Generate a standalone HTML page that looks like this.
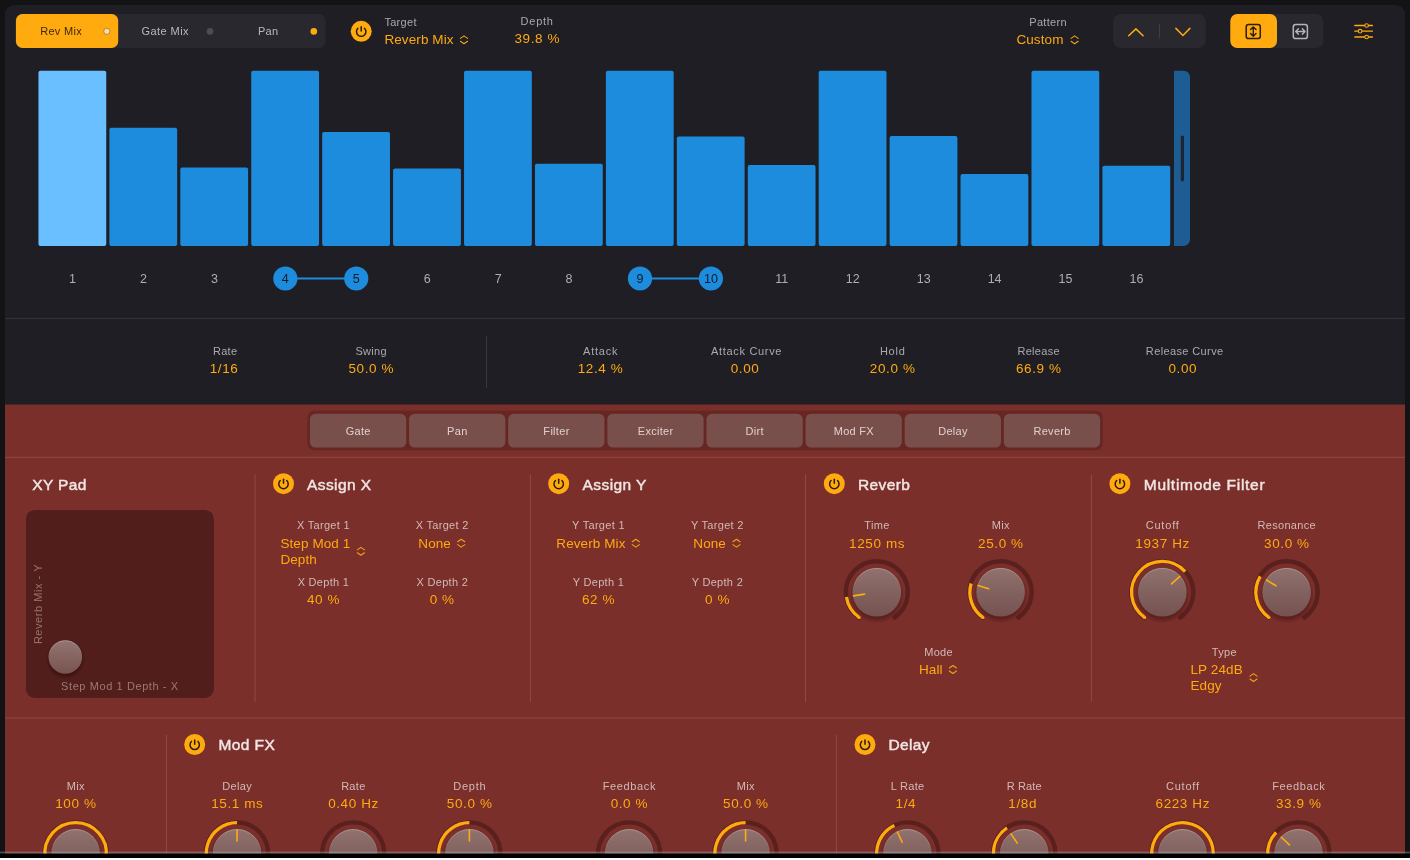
<!DOCTYPE html>
<html><head><meta charset="utf-8"><title>Step FX</title>
<style>
html,body{margin:0;padding:0;overflow:hidden;}
body{width:1410px;height:860px;background:#131315;overflow:hidden;position:relative;font-family:"Liberation Sans",sans-serif;}
.a{position:absolute;display:block;}
.t{position:absolute;line-height:16px;white-space:nowrap;}
#root{position:absolute;left:0;top:0;width:1410px;height:860px;will-change:transform;}
</style></head>
<body><div id="root">
<div class="a" style="left:5.00px;top:5.00px;width:1400.00px;height:400.00px;background:#1e1e24;border-radius:0px;border-radius:9px 9px 0 0;"></div>
<svg class="a" style="left:4px;top:403px" width="1402" height="453" viewBox="0 0 1402 453"><rect x="1.00" y="1.50" width="1400.00" height="450.00" fill="#7a2f2b"/></svg>
<svg class="a" style="left:14px;top:13px" width="313" height="36" viewBox="0 0 313 36"><rect x="1.90" y="1.10" width="309.60" height="33.80" rx="6.5" fill="#28282e"/></svg>
<svg class="a" style="left:14px;top:13px" width="106" height="36" viewBox="0 0 106 36"><rect x="1.90" y="1.10" width="102.30" height="33.80" rx="6.5" fill="#ffaa0e"/></svg>
<div class="t" style="left:-88.95px;width:300px;text-align:center;top:23.00px;font-size:11px;color:#3f2a08;font-weight:400;letter-spacing:0.3px;">Rev Mix</div>
<div class="t" style="left:15.22px;width:300px;text-align:center;top:23.00px;font-size:11px;color:#b9b9bd;font-weight:400;letter-spacing:0.45px;">Gate Mix</div>
<div class="t" style="left:118.15px;width:300px;text-align:center;top:23.00px;font-size:11px;color:#b9b9bd;font-weight:400;letter-spacing:0.3px;">Pan</div>
<svg class="a" style="left:100px;top:24px" width="220" height="16" viewBox="100 24 220 16"><circle cx="106.8" cy="31.35" r="3.1" fill="#ffdba6" stroke="#a5782c" stroke-width="0.8"/><circle cx="210" cy="31.4" r="3.3" fill="#4b4b59"/><circle cx="313.8" cy="31.4" r="3.3" fill="#ffaa0e"/></svg>
<svg class="a" style="left:350px;top:20px" width="22" height="22" viewBox="0 0 22 22"><g transform="translate(0.70 0.80)"><circle cx="10.5" cy="10.5" r="10.5" fill="#ffaa0e"/><path d="M13.76 7.42 A4.7 4.7 0 1 1 7.24 7.42" fill="none" stroke="#2b1d0a" stroke-width="1.5" stroke-linecap="round"/><path d="M10.5 6.00 L10.5 10.20" stroke="#2b1d0a" stroke-width="1.5" stroke-linecap="round"/></g></svg>
<div class="t" style="left:384.40px;text-align:left;top:14.00px;font-size:11px;color:#a9a9af;font-weight:400;letter-spacing:0.3px;">Target</div>
<div class="t" style="left:384.40px;text-align:left;top:32.00px;font-size:13.5px;color:#ffaa0e;font-weight:400;letter-spacing:0.1px;">Reverb Mix</div>
<svg class="a" style="left:459px;top:34px" width="11" height="11" viewBox="0 0 11 11"><g transform="translate(0.45 0.85)"><path d="M1.00 3.50 L4.55 1.00 L8.10 3.50 M1.00 6.40 L4.55 8.90 L8.10 6.40" fill="none" stroke="#f5a40f" stroke-width="1.05" stroke-linecap="round" stroke-linejoin="round"/></g></svg>
<div class="t" style="left:387.17px;width:300px;text-align:center;top:13.00px;font-size:11px;color:#a9a9af;font-weight:400;letter-spacing:0.75px;">Depth</div>
<div class="t" style="left:387.30px;width:300px;text-align:center;top:31.00px;font-size:13.5px;color:#ffaa0e;font-weight:400;letter-spacing:0.6px;">39.8 %</div>
<div class="t" style="left:898.05px;width:300px;text-align:center;top:14.00px;font-size:11px;color:#a9a9af;font-weight:400;letter-spacing:0.3px;">Pattern</div>
<div class="t" style="left:1016.40px;text-align:left;top:32.00px;font-size:13.5px;color:#ffaa0e;font-weight:400;letter-spacing:0.1px;">Custom</div>
<svg class="a" style="left:1070px;top:34px" width="11" height="11" viewBox="0 0 11 11"><g transform="translate(0.05 0.85)"><path d="M1.00 3.50 L4.55 1.00 L8.10 3.50 M1.00 6.40 L4.55 8.90 L8.10 6.40" fill="none" stroke="#f5a40f" stroke-width="1.05" stroke-linecap="round" stroke-linejoin="round"/></g></svg>
<svg class="a" style="left:1112px;top:13px" width="95" height="36" viewBox="0 0 95 36"><rect x="1.00" y="1.00" width="92.70" height="34.00" rx="8" fill="#28282e"/></svg>
<svg class="a" style="left:1158px;top:23px" width="3" height="17" viewBox="0 0 3 17"><rect x="1.00" y="1.00" width="1.00" height="14.20" fill="#3d3d45"/></svg>
<svg class="a" style="left:1113px;top:14px" width="93" height="34" viewBox="0 0 93 34"><path d="M15.7 21.8 L22.9 14.9 L30.1 21.8" fill="none" stroke="#ffaa0e" stroke-width="1.5" stroke-linecap="round" stroke-linejoin="round"/><path d="M62.9 14.4 L69.9 21.5 L76.9 14.4" fill="none" stroke="#ffaa0e" stroke-width="1.5" stroke-linecap="round" stroke-linejoin="round"/></svg>
<svg class="a" style="left:1229px;top:13px" width="96" height="36" viewBox="0 0 96 36"><rect x="1.30" y="1.00" width="93.00" height="34.00" rx="7" fill="#28282e"/></svg>
<svg class="a" style="left:1229px;top:13px" width="49" height="36" viewBox="0 0 49 36"><rect x="1.30" y="1.00" width="46.70" height="34.00" rx="7" fill="#ffaa0e"/></svg>
<svg class="a" style="left:1229.8px;top:14px" width="93" height="34" viewBox="0 0 93 34"><rect x="16.2" y="10.5" width="14.1" height="14.1" rx="2.4" fill="none" stroke="#2b1d0a" stroke-width="1.5"/><path d="M23.25 13.2 L23.25 22 M20.5 15.6 L23.25 12.9 L26 15.6 M20.5 19.5 L23.25 22.2 L26 19.5" fill="none" stroke="#2b1d0a" stroke-width="1.4" stroke-linecap="round" stroke-linejoin="round"/><rect x="63.3" y="10.5" width="14.1" height="14.1" rx="2.4" fill="none" stroke="#b4b4bc" stroke-width="1.5"/><path d="M65.9 17.55 L74.8 17.55 M68.4 14.8 L65.7 17.55 L68.4 20.3 M72.3 14.8 L75 17.55 L72.3 20.3" fill="none" stroke="#b4b4bc" stroke-width="1.4" stroke-linecap="round" stroke-linejoin="round"/></svg>
<svg class="a" style="left:1350px;top:20px" width="28" height="24" viewBox="0 0 28 24"><g stroke="#ffaa0e" stroke-width="1.3" stroke-linecap="round" fill="#1e1e24"><path d="M4.8 5.5 L22.4 5.5 M4.8 11.2 L22.4 11.2 M4.8 17 L22.4 17"/><circle cx="16.6" cy="5.5" r="1.8" stroke-width="1.1"/><circle cx="10.1" cy="11.2" r="1.8" stroke-width="1.1"/><circle cx="16.6" cy="17" r="1.8" stroke-width="1.1"/></g></svg>
<svg class="a" style="left:0;top:60px" width="1200" height="200" viewBox="0 60 1200 200"><rect x="38.45" y="70.80" width="67.8" height="175.20" rx="1.9" fill="#69bfff"/><rect x="109.38" y="127.80" width="67.8" height="118.20" rx="1.9" fill="#1e8cdc"/><rect x="180.31" y="167.50" width="67.8" height="78.50" rx="1.9" fill="#1e8cdc"/><rect x="251.24" y="70.80" width="67.8" height="175.20" rx="1.9" fill="#1e8cdc"/><rect x="322.17" y="131.90" width="67.8" height="114.10" rx="1.9" fill="#1e8cdc"/><rect x="393.10" y="168.45" width="67.8" height="77.55" rx="1.9" fill="#1e8cdc"/><rect x="464.03" y="70.80" width="67.8" height="175.20" rx="1.9" fill="#1e8cdc"/><rect x="534.96" y="163.70" width="67.8" height="82.30" rx="1.9" fill="#1e8cdc"/><rect x="605.89" y="70.80" width="67.8" height="175.20" rx="1.9" fill="#1e8cdc"/><rect x="676.82" y="136.40" width="67.8" height="109.60" rx="1.9" fill="#1e8cdc"/><rect x="747.75" y="165.10" width="67.8" height="80.90" rx="1.9" fill="#1e8cdc"/><rect x="818.68" y="70.80" width="67.8" height="175.20" rx="1.9" fill="#1e8cdc"/><rect x="889.61" y="136.05" width="67.8" height="109.95" rx="1.9" fill="#1e8cdc"/><rect x="960.54" y="174.00" width="67.8" height="72.00" rx="1.9" fill="#1e8cdc"/><rect x="1031.47" y="70.80" width="67.8" height="175.20" rx="1.9" fill="#1e8cdc"/><rect x="1102.40" y="165.70" width="67.8" height="80.30" rx="1.9" fill="#1e8cdc"/></svg>
<svg class="a" style="left:1170px;top:60px" width="30" height="200" viewBox="1170 60 30 200"><path d="M1174 70.7 H1183.5 A6.5 6.5 0 0 1 1190 77.2 V239.5 A6.5 6.5 0 0 1 1183.5 246.0 H1174 Z" fill="#1d5d93"/></svg>
<svg class="a" style="left:1179px;top:134px" width="6" height="49" viewBox="0 0 6 49"><rect x="1.80" y="1.60" width="3.20" height="45.80" rx="1.6" fill="#1c2533"/></svg>
<svg class="a" style="left:284px;top:276px" width="74" height="5" viewBox="0 0 74 5"><rect x="1.34" y="1.50" width="70.93" height="2.00" fill="#1e8cdc"/></svg>
<svg class="a" style="left:638px;top:276px" width="74" height="5" viewBox="0 0 74 5"><rect x="1.99" y="1.50" width="70.93" height="2.00" fill="#1e8cdc"/></svg>
<div class="t" style="left:-77.45px;width:300px;text-align:center;top:271.00px;font-size:12.5px;color:#adadb3;font-weight:400;">1</div>
<div class="t" style="left:-6.52px;width:300px;text-align:center;top:271.00px;font-size:12.5px;color:#adadb3;font-weight:400;">2</div>
<div class="t" style="left:64.41px;width:300px;text-align:center;top:271.00px;font-size:12.5px;color:#adadb3;font-weight:400;">3</div>
<svg class="a" style="left:272px;top:265px" width="27" height="27" viewBox="0 0 27 27"><g transform="translate(0.34 0.50)"><circle cx="13" cy="13" r="12.1" fill="#1e8cdc"/></g></svg>
<div class="t" style="left:135.34px;width:300px;text-align:center;top:271.00px;font-size:12.5px;color:#0d1b2a;font-weight:400;">4</div>
<svg class="a" style="left:343px;top:265px" width="27" height="27" viewBox="0 0 27 27"><g transform="translate(0.27 0.50)"><circle cx="13" cy="13" r="12.1" fill="#1e8cdc"/></g></svg>
<div class="t" style="left:206.27px;width:300px;text-align:center;top:271.00px;font-size:12.5px;color:#0d1b2a;font-weight:400;">5</div>
<div class="t" style="left:277.20px;width:300px;text-align:center;top:271.00px;font-size:12.5px;color:#adadb3;font-weight:400;">6</div>
<div class="t" style="left:348.13px;width:300px;text-align:center;top:271.00px;font-size:12.5px;color:#adadb3;font-weight:400;">7</div>
<div class="t" style="left:419.06px;width:300px;text-align:center;top:271.00px;font-size:12.5px;color:#adadb3;font-weight:400;">8</div>
<svg class="a" style="left:626px;top:265px" width="27" height="27" viewBox="0 0 27 27"><g transform="translate(0.99 0.50)"><circle cx="13" cy="13" r="12.1" fill="#1e8cdc"/></g></svg>
<div class="t" style="left:489.99px;width:300px;text-align:center;top:271.00px;font-size:12.5px;color:#0d1b2a;font-weight:400;">9</div>
<svg class="a" style="left:697px;top:265px" width="27" height="27" viewBox="0 0 27 27"><g transform="translate(0.92 0.50)"><circle cx="13" cy="13" r="12.1" fill="#1e8cdc"/></g></svg>
<div class="t" style="left:560.92px;width:300px;text-align:center;top:271.00px;font-size:12.5px;color:#0d1b2a;font-weight:400;">10</div>
<div class="t" style="left:631.85px;width:300px;text-align:center;top:271.00px;font-size:12.5px;color:#adadb3;font-weight:400;">11</div>
<div class="t" style="left:702.78px;width:300px;text-align:center;top:271.00px;font-size:12.5px;color:#adadb3;font-weight:400;">12</div>
<div class="t" style="left:773.71px;width:300px;text-align:center;top:271.00px;font-size:12.5px;color:#adadb3;font-weight:400;">13</div>
<div class="t" style="left:844.64px;width:300px;text-align:center;top:271.00px;font-size:12.5px;color:#adadb3;font-weight:400;">14</div>
<div class="t" style="left:915.57px;width:300px;text-align:center;top:271.00px;font-size:12.5px;color:#adadb3;font-weight:400;">15</div>
<div class="t" style="left:986.50px;width:300px;text-align:center;top:271.00px;font-size:12.5px;color:#adadb3;font-weight:400;">16</div>
<svg class="a" style="left:4px;top:316px" width="1402" height="4" viewBox="0 0 1402 4"><rect x="1.00" y="1.90" width="1400.00" height="1.00" fill="#34343b"/></svg>
<svg class="a" style="left:485px;top:334px" width="3" height="55" viewBox="0 0 3 55"><rect x="1.00" y="1.50" width="1.00" height="52.50" fill="#36363d"/></svg>
<div class="t" style="left:75.15px;width:300px;text-align:center;top:343.00px;font-size:11px;color:#a9a9af;font-weight:400;letter-spacing:0.3px;">Rate</div>
<div class="t" style="left:74.10px;width:300px;text-align:center;top:361.00px;font-size:13.5px;color:#ffaa0e;font-weight:400;letter-spacing:0.6px;">1/16</div>
<div class="t" style="left:221.15px;width:300px;text-align:center;top:343.00px;font-size:11px;color:#a9a9af;font-weight:400;letter-spacing:0.3px;">Swing</div>
<div class="t" style="left:221.30px;width:300px;text-align:center;top:361.00px;font-size:13.5px;color:#ffaa0e;font-weight:400;letter-spacing:0.6px;">50.0 %</div>
<div class="t" style="left:450.70px;width:300px;text-align:center;top:343.00px;font-size:11px;color:#a9a9af;font-weight:400;letter-spacing:0.8px;">Attack</div>
<div class="t" style="left:450.60px;width:300px;text-align:center;top:361.00px;font-size:13.5px;color:#ffaa0e;font-weight:400;letter-spacing:0.6px;">12.4 %</div>
<div class="t" style="left:596.63px;width:300px;text-align:center;top:343.00px;font-size:11px;color:#a9a9af;font-weight:400;letter-spacing:0.67px;">Attack Curve</div>
<div class="t" style="left:595.10px;width:300px;text-align:center;top:361.00px;font-size:13.5px;color:#ffaa0e;font-weight:400;letter-spacing:0.6px;">0.00</div>
<div class="t" style="left:742.80px;width:300px;text-align:center;top:343.00px;font-size:11px;color:#a9a9af;font-weight:400;letter-spacing:0.8px;">Hold</div>
<div class="t" style="left:742.70px;width:300px;text-align:center;top:361.00px;font-size:13.5px;color:#ffaa0e;font-weight:400;letter-spacing:0.6px;">20.0 %</div>
<div class="t" style="left:888.65px;width:300px;text-align:center;top:343.00px;font-size:11px;color:#a9a9af;font-weight:400;letter-spacing:0.3px;">Release</div>
<div class="t" style="left:888.80px;width:300px;text-align:center;top:361.00px;font-size:13.5px;color:#ffaa0e;font-weight:400;letter-spacing:0.6px;">66.9 %</div>
<div class="t" style="left:1034.69px;width:300px;text-align:center;top:343.00px;font-size:11px;color:#a9a9af;font-weight:400;letter-spacing:0.38px;">Release Curve</div>
<div class="t" style="left:1032.80px;width:300px;text-align:center;top:361.00px;font-size:13.5px;color:#ffaa0e;font-weight:400;letter-spacing:0.6px;">0.00</div>
<svg class="a" style="left:306px;top:409px" width="798" height="43" viewBox="0 0 798 43"><rect x="1.40" y="1.80" width="795.40" height="39.40" rx="7" fill="#662624"/></svg>
<svg class="a" style="left:308px;top:412px" width="100" height="37" viewBox="0 0 100 37"><rect x="1.95" y="1.80" width="96.30" height="33.70" rx="5.5" fill="#794f4c"/></svg>
<div class="t" style="left:208.25px;width:300px;text-align:center;top:423.00px;font-size:11px;color:#e0d0cd;font-weight:400;letter-spacing:0.3px;">Gate</div>
<svg class="a" style="left:408px;top:412px" width="99" height="37" viewBox="0 0 99 37"><rect x="1.07" y="1.80" width="96.30" height="33.70" rx="5.5" fill="#794f4c"/></svg>
<div class="t" style="left:307.37px;width:300px;text-align:center;top:423.00px;font-size:11px;color:#e0d0cd;font-weight:400;letter-spacing:0.3px;">Pan</div>
<svg class="a" style="left:507px;top:412px" width="99" height="37" viewBox="0 0 99 37"><rect x="1.19" y="1.80" width="96.30" height="33.70" rx="5.5" fill="#794f4c"/></svg>
<div class="t" style="left:406.49px;width:300px;text-align:center;top:423.00px;font-size:11px;color:#e0d0cd;font-weight:400;letter-spacing:0.3px;">Filter</div>
<svg class="a" style="left:606px;top:412px" width="99" height="37" viewBox="0 0 99 37"><rect x="1.31" y="1.80" width="96.30" height="33.70" rx="5.5" fill="#794f4c"/></svg>
<div class="t" style="left:505.61px;width:300px;text-align:center;top:423.00px;font-size:11px;color:#e0d0cd;font-weight:400;letter-spacing:0.3px;">Exciter</div>
<svg class="a" style="left:705px;top:412px" width="99" height="37" viewBox="0 0 99 37"><rect x="1.43" y="1.80" width="96.30" height="33.70" rx="5.5" fill="#794f4c"/></svg>
<div class="t" style="left:604.73px;width:300px;text-align:center;top:423.00px;font-size:11px;color:#e0d0cd;font-weight:400;letter-spacing:0.3px;">Dirt</div>
<svg class="a" style="left:804px;top:412px" width="99" height="37" viewBox="0 0 99 37"><rect x="1.55" y="1.80" width="96.30" height="33.70" rx="5.5" fill="#794f4c"/></svg>
<div class="t" style="left:703.85px;width:300px;text-align:center;top:423.00px;font-size:11px;color:#e0d0cd;font-weight:400;letter-spacing:0.3px;">Mod FX</div>
<svg class="a" style="left:903px;top:412px" width="99" height="37" viewBox="0 0 99 37"><rect x="1.67" y="1.80" width="96.30" height="33.70" rx="5.5" fill="#794f4c"/></svg>
<div class="t" style="left:802.97px;width:300px;text-align:center;top:423.00px;font-size:11px;color:#e0d0cd;font-weight:400;letter-spacing:0.3px;">Delay</div>
<svg class="a" style="left:1002px;top:412px" width="100" height="37" viewBox="0 0 100 37"><rect x="1.79" y="1.80" width="96.30" height="33.70" rx="5.5" fill="#794f4c"/></svg>
<div class="t" style="left:902.09px;width:300px;text-align:center;top:423.00px;font-size:11px;color:#e0d0cd;font-weight:400;letter-spacing:0.3px;">Reverb</div>
<svg class="a" style="left:4px;top:455px" width="1402" height="4" viewBox="0 0 1402 4"><rect x="1.00" y="1.80" width="1400.00" height="1.00" fill="rgba(255,200,190,0.17)"/></svg>
<svg class="a" style="left:4px;top:716px" width="1402" height="4" viewBox="0 0 1402 4"><rect x="1.00" y="1.50" width="1400.00" height="1.00" fill="rgba(255,200,190,0.17)"/></svg>
<svg class="a" style="left:253px;top:473px" width="4" height="230" viewBox="0 0 4 230"><rect x="1.50" y="1.50" width="1.00" height="227.50" fill="rgba(255,200,190,0.17)"/></svg>
<svg class="a" style="left:528px;top:473px" width="4" height="230" viewBox="0 0 4 230"><rect x="1.90" y="1.50" width="1.00" height="227.50" fill="rgba(255,200,190,0.17)"/></svg>
<svg class="a" style="left:804px;top:473px" width="3" height="230" viewBox="0 0 3 230"><rect x="1.00" y="1.50" width="1.00" height="227.50" fill="rgba(255,200,190,0.17)"/></svg>
<svg class="a" style="left:1089px;top:473px" width="4" height="230" viewBox="0 0 4 230"><rect x="1.90" y="1.50" width="1.00" height="227.50" fill="rgba(255,200,190,0.17)"/></svg>
<svg class="a" style="left:164px;top:734px" width="4" height="122" viewBox="0 0 4 122"><rect x="1.90" y="1.00" width="1.00" height="120.00" fill="rgba(255,200,190,0.17)"/></svg>
<svg class="a" style="left:834px;top:734px" width="4" height="122" viewBox="0 0 4 122"><rect x="1.90" y="1.00" width="1.00" height="120.00" fill="rgba(255,200,190,0.17)"/></svg>
<div class="t" style="left:32.20px;text-align:left;top:477.00px;font-size:15.5px;color:#f1e6e4;font-weight:400;letter-spacing:0.4px;-webkit-text-stroke:0.45px #f1e6e4;">XY Pad</div>
<svg class="a" style="left:24px;top:508px" width="191" height="191" viewBox="0 0 191 191"><rect x="1.90" y="1.90" width="188.00" height="188.00" rx="9" fill="#521e1c"/></svg>
<svg class="a" style="left:41px;top:632px" width="49" height="53" viewBox="0 0 49 53"><g transform="translate(0.30 0.95)"><defs><linearGradient id="pg" x1="0" y1="0" x2="0" y2="1"><stop offset="0" stop-color="#937572"/><stop offset="1" stop-color="#78544f"/></linearGradient><radialGradient id="ps" cx="0.5" cy="0.5" r="0.5"><stop offset="0.7" stop-color="#200000" stop-opacity="0.5"/><stop offset="1" stop-color="#200000" stop-opacity="0"/></radialGradient><linearGradient id="ph" x1="0" y1="0" x2="0" y2="1"><stop offset="0" stop-color="#fff" stop-opacity="0.25"/><stop offset="0.45" stop-color="#fff" stop-opacity="0"/></linearGradient></defs><circle cx="24" cy="26.5" r="20" fill="url(#ps)"/><circle cx="24" cy="24" r="16.8" fill="url(#pg)"/><circle cx="24" cy="24" r="16.35" fill="none" stroke="url(#ph)" stroke-width="0.9"/></g></svg>
<div class="t" style="left:-30.11px;width:300px;text-align:center;top:678.00px;font-size:11px;color:#9d7875;font-weight:400;letter-spacing:0.59px;">Step Mod 1 Depth - X</div>
<div class="t" style="left:-112.30px;width:300px;text-align:center;top:596.40px;font-size:11px;letter-spacing:0.55px;color:#98716e;transform:rotate(-90deg);transform-origin:50% 50%">Reverb Mix - Y</div>
<svg class="a" style="left:273px;top:473px" width="22" height="22" viewBox="0 0 22 22"><g transform="translate(0.00 0.15)"><circle cx="10.5" cy="10.5" r="10.5" fill="#ffaa0e"/><path d="M13.76 7.42 A4.7 4.7 0 1 1 7.24 7.42" fill="none" stroke="#2b1d0a" stroke-width="1.5" stroke-linecap="round"/><path d="M10.5 6.00 L10.5 10.20" stroke="#2b1d0a" stroke-width="1.5" stroke-linecap="round"/></g></svg>
<div class="t" style="left:307.00px;text-align:left;top:477.00px;font-size:15.5px;color:#f1e6e4;font-weight:400;letter-spacing:0.4px;-webkit-text-stroke:0.45px #f1e6e4;">Assign X</div>
<div class="t" style="left:173.45px;width:300px;text-align:center;top:517.00px;font-size:11px;color:#d3b9b6;font-weight:400;letter-spacing:0.3px;">X Target 1</div>
<div class="t" style="left:280.40px;text-align:left;top:536.00px;font-size:13.5px;color:#ffaa0e;font-weight:400;letter-spacing:0.1px;">Step Mod 1</div>
<div class="t" style="left:280.40px;text-align:left;top:552.00px;font-size:13.5px;color:#ffaa0e;font-weight:400;letter-spacing:0.1px;">Depth</div>
<svg class="a" style="left:356px;top:546px" width="11" height="11" viewBox="0 0 11 11"><g transform="translate(0.35 0.35)"><path d="M1.00 3.50 L4.55 1.00 L8.10 3.50 M1.00 6.40 L4.55 8.90 L8.10 6.40" fill="none" stroke="#f5a40f" stroke-width="1.05" stroke-linecap="round" stroke-linejoin="round"/></g></svg>
<div class="t" style="left:292.15px;width:300px;text-align:center;top:517.00px;font-size:11px;color:#d3b9b6;font-weight:400;letter-spacing:0.3px;">X Target 2</div>
<div class="t" style="left:418.30px;text-align:left;top:536.00px;font-size:13.5px;color:#ffaa0e;font-weight:400;letter-spacing:0.1px;">None</div>
<svg class="a" style="left:456px;top:538px" width="11" height="11" viewBox="0 0 11 11"><g transform="translate(0.65 0.25)"><path d="M1.00 3.50 L4.55 1.00 L8.10 3.50 M1.00 6.40 L4.55 8.90 L8.10 6.40" fill="none" stroke="#f5a40f" stroke-width="1.05" stroke-linecap="round" stroke-linejoin="round"/></g></svg>
<div class="t" style="left:173.45px;width:300px;text-align:center;top:574.00px;font-size:11px;color:#d3b9b6;font-weight:400;letter-spacing:0.3px;">X Depth 1</div>
<div class="t" style="left:173.60px;width:300px;text-align:center;top:592.00px;font-size:13.5px;color:#ffaa0e;font-weight:400;letter-spacing:0.6px;">40 %</div>
<div class="t" style="left:292.35px;width:300px;text-align:center;top:574.00px;font-size:11px;color:#d3b9b6;font-weight:400;letter-spacing:0.3px;">X Depth 2</div>
<div class="t" style="left:292.20px;width:300px;text-align:center;top:592.00px;font-size:13.5px;color:#ffaa0e;font-weight:400;letter-spacing:0.6px;">0 %</div>
<svg class="a" style="left:548px;top:473px" width="22" height="22" viewBox="0 0 22 22"><g transform="translate(0.20 0.15)"><circle cx="10.5" cy="10.5" r="10.5" fill="#ffaa0e"/><path d="M13.76 7.42 A4.7 4.7 0 1 1 7.24 7.42" fill="none" stroke="#2b1d0a" stroke-width="1.5" stroke-linecap="round"/><path d="M10.5 6.00 L10.5 10.20" stroke="#2b1d0a" stroke-width="1.5" stroke-linecap="round"/></g></svg>
<div class="t" style="left:582.60px;text-align:left;top:477.00px;font-size:15.5px;color:#f1e6e4;font-weight:400;letter-spacing:0.4px;-webkit-text-stroke:0.45px #f1e6e4;">Assign Y</div>
<div class="t" style="left:448.45px;width:300px;text-align:center;top:517.00px;font-size:11px;color:#d3b9b6;font-weight:400;letter-spacing:0.3px;">Y Target 1</div>
<div class="t" style="left:556.30px;text-align:left;top:536.00px;font-size:13.5px;color:#ffaa0e;font-weight:400;letter-spacing:0.1px;">Reverb Mix</div>
<svg class="a" style="left:631px;top:538px" width="11" height="11" viewBox="0 0 11 11"><g transform="translate(0.25 0.25)"><path d="M1.00 3.50 L4.55 1.00 L8.10 3.50 M1.00 6.40 L4.55 8.90 L8.10 6.40" fill="none" stroke="#f5a40f" stroke-width="1.05" stroke-linecap="round" stroke-linejoin="round"/></g></svg>
<div class="t" style="left:567.35px;width:300px;text-align:center;top:517.00px;font-size:11px;color:#d3b9b6;font-weight:400;letter-spacing:0.3px;">Y Target 2</div>
<div class="t" style="left:693.30px;text-align:left;top:536.00px;font-size:13.5px;color:#ffaa0e;font-weight:400;letter-spacing:0.1px;">None</div>
<svg class="a" style="left:731px;top:538px" width="11" height="11" viewBox="0 0 11 11"><g transform="translate(0.95 0.25)"><path d="M1.00 3.50 L4.55 1.00 L8.10 3.50 M1.00 6.40 L4.55 8.90 L8.10 6.40" fill="none" stroke="#f5a40f" stroke-width="1.05" stroke-linecap="round" stroke-linejoin="round"/></g></svg>
<div class="t" style="left:448.45px;width:300px;text-align:center;top:574.00px;font-size:11px;color:#d3b9b6;font-weight:400;letter-spacing:0.3px;">Y Depth 1</div>
<div class="t" style="left:448.60px;width:300px;text-align:center;top:592.00px;font-size:13.5px;color:#ffaa0e;font-weight:400;letter-spacing:0.6px;">62 %</div>
<div class="t" style="left:567.35px;width:300px;text-align:center;top:574.00px;font-size:11px;color:#d3b9b6;font-weight:400;letter-spacing:0.3px;">Y Depth 2</div>
<div class="t" style="left:567.50px;width:300px;text-align:center;top:592.00px;font-size:13.5px;color:#ffaa0e;font-weight:400;letter-spacing:0.6px;">0 %</div>
<svg class="a" style="left:823px;top:473px" width="22" height="22" viewBox="0 0 22 22"><g transform="translate(0.80 0.15)"><circle cx="10.5" cy="10.5" r="10.5" fill="#ffaa0e"/><path d="M13.76 7.42 A4.7 4.7 0 1 1 7.24 7.42" fill="none" stroke="#2b1d0a" stroke-width="1.5" stroke-linecap="round"/><path d="M10.5 6.00 L10.5 10.20" stroke="#2b1d0a" stroke-width="1.5" stroke-linecap="round"/></g></svg>
<div class="t" style="left:857.90px;text-align:left;top:477.00px;font-size:15.5px;color:#f1e6e4;font-weight:400;letter-spacing:0.4px;-webkit-text-stroke:0.45px #f1e6e4;">Reverb</div>
<div class="t" style="left:726.95px;width:300px;text-align:center;top:517.00px;font-size:11px;color:#d3b9b6;font-weight:400;letter-spacing:0.3px;">Time</div>
<div class="t" style="left:727.10px;width:300px;text-align:center;top:536.00px;font-size:13.5px;color:#ffaa0e;font-weight:400;letter-spacing:0.6px;">1250 ms</div>
<svg class="a" style="left:836px;top:552px" width="81" height="81" viewBox="0 0 81 81"><g transform="translate(0.80 0.20)"><defs><linearGradient id="kg1" x1="0" y1="0" x2="0" y2="1"><stop offset="0" stop-color="#90726f"/><stop offset="1" stop-color="#74524f"/></linearGradient><radialGradient id="ks1" cx="0.5" cy="0.5" r="0.5"><stop offset="0.75" stop-color="#3a0d0c" stop-opacity="0.55"/><stop offset="1" stop-color="#3a0d0c" stop-opacity="0"/></radialGradient><linearGradient id="kh1" x1="0" y1="0" x2="0" y2="1"><stop offset="0" stop-color="#fff" stop-opacity="0.28"/><stop offset="0.45" stop-color="#fff" stop-opacity="0"/></linearGradient></defs><path d="M22.22 65.39 A31.0 31.0 0 1 1 57.78 65.39" fill="none" stroke="#5a201e" stroke-width="4.4" stroke-linecap="round"/><circle cx="22.36" cy="65.19" r="1.65" fill="#ffaa0e"/><path d="M22.36 65.19 A30.75 30.75 0 0 1 9.63 44.81" fill="none" stroke="#ffaa0e" stroke-width="3.3" stroke-linecap="butt"/><ellipse cx="40.0" cy="43.5" rx="27.8" ry="27.8" fill="url(#ks1)"/><circle cx="40.0" cy="40.0" r="24.3" fill="url(#kg1)"/><circle cx="40.0" cy="40.0" r="23.85" fill="none" stroke="url(#kh1)" stroke-width="0.9"/><path d="M16.69 43.69 L27.75 41.94" stroke="#ffaa0e" stroke-width="1.6" stroke-linecap="round"/></g></svg>
<div class="t" style="left:850.75px;width:300px;text-align:center;top:517.00px;font-size:11px;color:#d3b9b6;font-weight:400;letter-spacing:0.3px;">Mix</div>
<div class="t" style="left:850.90px;width:300px;text-align:center;top:536.00px;font-size:13.5px;color:#ffaa0e;font-weight:400;letter-spacing:0.6px;">25.0 %</div>
<svg class="a" style="left:960px;top:552px" width="81" height="81" viewBox="0 0 81 81"><g transform="translate(0.60 0.20)"><defs><linearGradient id="kg2" x1="0" y1="0" x2="0" y2="1"><stop offset="0" stop-color="#90726f"/><stop offset="1" stop-color="#74524f"/></linearGradient><radialGradient id="ks2" cx="0.5" cy="0.5" r="0.5"><stop offset="0.75" stop-color="#3a0d0c" stop-opacity="0.55"/><stop offset="1" stop-color="#3a0d0c" stop-opacity="0"/></radialGradient><linearGradient id="kh2" x1="0" y1="0" x2="0" y2="1"><stop offset="0" stop-color="#fff" stop-opacity="0.28"/><stop offset="0.45" stop-color="#fff" stop-opacity="0"/></linearGradient></defs><path d="M22.22 65.39 A31.0 31.0 0 1 1 57.78 65.39" fill="none" stroke="#5a201e" stroke-width="4.4" stroke-linecap="round"/><circle cx="22.36" cy="65.19" r="1.65" fill="#ffaa0e"/><path d="M22.36 65.19 A30.75 30.75 0 0 1 10.52 31.27" fill="none" stroke="#ffaa0e" stroke-width="3.3" stroke-linecap="butt"/><ellipse cx="40.0" cy="43.5" rx="27.8" ry="27.8" fill="url(#ks2)"/><circle cx="40.0" cy="40.0" r="24.3" fill="url(#kg2)"/><circle cx="40.0" cy="40.0" r="23.85" fill="none" stroke="url(#kh2)" stroke-width="0.9"/><path d="M17.37 33.30 L28.11 36.48" stroke="#ffaa0e" stroke-width="1.6" stroke-linecap="round"/></g></svg>
<div class="t" style="left:788.55px;width:300px;text-align:center;top:644.00px;font-size:11px;color:#d3b9b6;font-weight:400;letter-spacing:0.3px;">Mode</div>
<div class="t" style="left:919.00px;text-align:left;top:662.00px;font-size:13.5px;color:#ffaa0e;font-weight:400;letter-spacing:0.1px;">Hall</div>
<svg class="a" style="left:948px;top:664px" width="11" height="11" viewBox="0 0 11 11"><g transform="translate(0.35 0.55)"><path d="M1.00 3.50 L4.55 1.00 L8.10 3.50 M1.00 6.40 L4.55 8.90 L8.10 6.40" fill="none" stroke="#f5a40f" stroke-width="1.05" stroke-linecap="round" stroke-linejoin="round"/></g></svg>
<svg class="a" style="left:1109px;top:473px" width="22" height="22" viewBox="0 0 22 22"><g transform="translate(0.40 0.15)"><circle cx="10.5" cy="10.5" r="10.5" fill="#ffaa0e"/><path d="M13.76 7.42 A4.7 4.7 0 1 1 7.24 7.42" fill="none" stroke="#2b1d0a" stroke-width="1.5" stroke-linecap="round"/><path d="M10.5 6.00 L10.5 10.20" stroke="#2b1d0a" stroke-width="1.5" stroke-linecap="round"/></g></svg>
<div class="t" style="left:1143.80px;text-align:left;top:477.00px;font-size:15.5px;color:#f1e6e4;font-weight:400;letter-spacing:0.7px;-webkit-text-stroke:0.45px #f1e6e4;">Multimode Filter</div>
<div class="t" style="left:1012.70px;width:300px;text-align:center;top:517.00px;font-size:11px;color:#d3b9b6;font-weight:400;letter-spacing:0.8px;">Cutoff</div>
<div class="t" style="left:1012.60px;width:300px;text-align:center;top:536.00px;font-size:13.5px;color:#ffaa0e;font-weight:400;letter-spacing:0.6px;">1937 Hz</div>
<svg class="a" style="left:1122px;top:552px" width="81" height="81" viewBox="0 0 81 81"><g transform="translate(0.30 0.20)"><defs><linearGradient id="kg3" x1="0" y1="0" x2="0" y2="1"><stop offset="0" stop-color="#90726f"/><stop offset="1" stop-color="#74524f"/></linearGradient><radialGradient id="ks3" cx="0.5" cy="0.5" r="0.5"><stop offset="0.75" stop-color="#3a0d0c" stop-opacity="0.55"/><stop offset="1" stop-color="#3a0d0c" stop-opacity="0"/></radialGradient><linearGradient id="kh3" x1="0" y1="0" x2="0" y2="1"><stop offset="0" stop-color="#fff" stop-opacity="0.28"/><stop offset="0.45" stop-color="#fff" stop-opacity="0"/></linearGradient></defs><path d="M22.22 65.39 A31.0 31.0 0 1 1 57.78 65.39" fill="none" stroke="#5a201e" stroke-width="4.4" stroke-linecap="round"/><circle cx="22.36" cy="65.19" r="1.65" fill="#ffaa0e"/><path d="M22.36 65.19 A30.75 30.75 0 1 1 62.85 19.42" fill="none" stroke="#ffaa0e" stroke-width="3.3" stroke-linecap="butt"/><ellipse cx="40.0" cy="43.5" rx="27.8" ry="27.8" fill="url(#ks3)"/><circle cx="40.0" cy="40.0" r="24.3" fill="url(#kg3)"/><circle cx="40.0" cy="40.0" r="23.85" fill="none" stroke="url(#kh3)" stroke-width="0.9"/><path d="M57.54 24.21 L49.21 31.70" stroke="#ffaa0e" stroke-width="1.6" stroke-linecap="round"/></g></svg>
<div class="t" style="left:1136.75px;width:300px;text-align:center;top:517.00px;font-size:11px;color:#d3b9b6;font-weight:400;letter-spacing:0.3px;">Resonance</div>
<div class="t" style="left:1136.90px;width:300px;text-align:center;top:536.00px;font-size:13.5px;color:#ffaa0e;font-weight:400;letter-spacing:0.6px;">30.0 %</div>
<svg class="a" style="left:1246px;top:552px" width="81" height="81" viewBox="0 0 81 81"><g transform="translate(0.60 0.20)"><defs><linearGradient id="kg4" x1="0" y1="0" x2="0" y2="1"><stop offset="0" stop-color="#90726f"/><stop offset="1" stop-color="#74524f"/></linearGradient><radialGradient id="ks4" cx="0.5" cy="0.5" r="0.5"><stop offset="0.75" stop-color="#3a0d0c" stop-opacity="0.55"/><stop offset="1" stop-color="#3a0d0c" stop-opacity="0"/></radialGradient><linearGradient id="kh4" x1="0" y1="0" x2="0" y2="1"><stop offset="0" stop-color="#fff" stop-opacity="0.28"/><stop offset="0.45" stop-color="#fff" stop-opacity="0"/></linearGradient></defs><path d="M22.22 65.39 A31.0 31.0 0 1 1 57.78 65.39" fill="none" stroke="#5a201e" stroke-width="4.4" stroke-linecap="round"/><circle cx="22.36" cy="65.19" r="1.65" fill="#ffaa0e"/><path d="M22.36 65.19 A30.75 30.75 0 0 1 13.64 24.16" fill="none" stroke="#ffaa0e" stroke-width="3.3" stroke-linecap="butt"/><ellipse cx="40.0" cy="43.5" rx="27.8" ry="27.8" fill="url(#ks4)"/><circle cx="40.0" cy="40.0" r="24.3" fill="url(#kg4)"/><circle cx="40.0" cy="40.0" r="23.85" fill="none" stroke="url(#kh4)" stroke-width="0.9"/><path d="M19.77 27.85 L29.37 33.61" stroke="#ffaa0e" stroke-width="1.6" stroke-linecap="round"/></g></svg>
<div class="t" style="left:1074.35px;width:300px;text-align:center;top:644.00px;font-size:11px;color:#d3b9b6;font-weight:400;letter-spacing:0.3px;">Type</div>
<div class="t" style="left:1190.50px;text-align:left;top:662.00px;font-size:13.5px;color:#ffaa0e;font-weight:400;letter-spacing:0.1px;">LP 24dB</div>
<div class="t" style="left:1190.50px;text-align:left;top:678.00px;font-size:13.5px;color:#ffaa0e;font-weight:400;letter-spacing:0.1px;">Edgy</div>
<svg class="a" style="left:1248px;top:672px" width="11" height="11" viewBox="0 0 11 11"><g transform="translate(0.95 0.65)"><path d="M1.00 3.50 L4.55 1.00 L8.10 3.50 M1.00 6.40 L4.55 8.90 L8.10 6.40" fill="none" stroke="#f5a40f" stroke-width="1.05" stroke-linecap="round" stroke-linejoin="round"/></g></svg>
<div class="t" style="left:-74.25px;width:300px;text-align:center;top:778.00px;font-size:11px;color:#d3b9b6;font-weight:400;letter-spacing:0.3px;">Mix</div>
<div class="t" style="left:-74.10px;width:300px;text-align:center;top:796.00px;font-size:13.5px;color:#ffaa0e;font-weight:400;letter-spacing:0.6px;">100 %</div>
<svg class="a" style="left:35px;top:813px" width="81" height="81" viewBox="0 0 81 81"><g transform="translate(0.60 0.40)"><defs><linearGradient id="kg5" x1="0" y1="0" x2="0" y2="1"><stop offset="0" stop-color="#90726f"/><stop offset="1" stop-color="#74524f"/></linearGradient><radialGradient id="ks5" cx="0.5" cy="0.5" r="0.5"><stop offset="0.75" stop-color="#3a0d0c" stop-opacity="0.55"/><stop offset="1" stop-color="#3a0d0c" stop-opacity="0"/></radialGradient><linearGradient id="kh5" x1="0" y1="0" x2="0" y2="1"><stop offset="0" stop-color="#fff" stop-opacity="0.28"/><stop offset="0.45" stop-color="#fff" stop-opacity="0"/></linearGradient></defs><path d="M22.22 65.39 A31.0 31.0 0 1 1 57.78 65.39" fill="none" stroke="#5a201e" stroke-width="4.4" stroke-linecap="round"/><circle cx="22.36" cy="65.19" r="1.65" fill="#ffaa0e"/><path d="M22.36 65.19 A30.75 30.75 0 1 1 57.64 65.19" fill="none" stroke="#ffaa0e" stroke-width="3.3" stroke-linecap="butt"/><circle cx="57.64" cy="65.19" r="1.65" fill="#ffaa0e"/><ellipse cx="40.0" cy="43.5" rx="27.8" ry="27.8" fill="url(#ks5)"/><circle cx="40.0" cy="40.0" r="24.3" fill="url(#kg5)"/><circle cx="40.0" cy="40.0" r="23.85" fill="none" stroke="url(#kh5)" stroke-width="0.9"/><path d="M53.54 59.33 L47.11 50.16" stroke="#ffaa0e" stroke-width="1.6" stroke-linecap="round"/></g></svg>
<svg class="a" style="left:184px;top:734px" width="22" height="22" viewBox="0 0 22 22"><g transform="translate(0.20 0.00)"><circle cx="10.5" cy="10.5" r="10.5" fill="#ffaa0e"/><path d="M13.76 7.42 A4.7 4.7 0 1 1 7.24 7.42" fill="none" stroke="#2b1d0a" stroke-width="1.5" stroke-linecap="round"/><path d="M10.5 6.00 L10.5 10.20" stroke="#2b1d0a" stroke-width="1.5" stroke-linecap="round"/></g></svg>
<div class="t" style="left:218.50px;text-align:left;top:737.00px;font-size:15.5px;color:#f1e6e4;font-weight:400;letter-spacing:0.4px;-webkit-text-stroke:0.45px #f1e6e4;">Mod FX</div>
<div class="t" style="left:87.15px;width:300px;text-align:center;top:778.00px;font-size:11px;color:#d3b9b6;font-weight:400;letter-spacing:0.3px;">Delay</div>
<div class="t" style="left:87.30px;width:300px;text-align:center;top:796.00px;font-size:13.5px;color:#ffaa0e;font-weight:400;letter-spacing:0.6px;">15.1 ms</div>
<svg class="a" style="left:197px;top:813px" width="81" height="81" viewBox="0 0 81 81"><g transform="translate(0.00 0.40)"><defs><linearGradient id="kg6" x1="0" y1="0" x2="0" y2="1"><stop offset="0" stop-color="#90726f"/><stop offset="1" stop-color="#74524f"/></linearGradient><radialGradient id="ks6" cx="0.5" cy="0.5" r="0.5"><stop offset="0.75" stop-color="#3a0d0c" stop-opacity="0.55"/><stop offset="1" stop-color="#3a0d0c" stop-opacity="0"/></radialGradient><linearGradient id="kh6" x1="0" y1="0" x2="0" y2="1"><stop offset="0" stop-color="#fff" stop-opacity="0.28"/><stop offset="0.45" stop-color="#fff" stop-opacity="0"/></linearGradient></defs><path d="M22.22 65.39 A31.0 31.0 0 1 1 57.78 65.39" fill="none" stroke="#5a201e" stroke-width="4.4" stroke-linecap="round"/><circle cx="22.36" cy="65.19" r="1.65" fill="#ffaa0e"/><path d="M22.36 65.19 A30.75 30.75 0 0 1 40.00 9.25" fill="none" stroke="#ffaa0e" stroke-width="3.3" stroke-linecap="butt"/><ellipse cx="40.0" cy="43.5" rx="27.8" ry="27.8" fill="url(#ks6)"/><circle cx="40.0" cy="40.0" r="24.3" fill="url(#kg6)"/><circle cx="40.0" cy="40.0" r="23.85" fill="none" stroke="url(#kh6)" stroke-width="0.9"/><path d="M40.00 16.40 L40.00 27.60" stroke="#ffaa0e" stroke-width="1.6" stroke-linecap="round"/></g></svg>
<div class="t" style="left:203.35px;width:300px;text-align:center;top:778.00px;font-size:11px;color:#d3b9b6;font-weight:400;letter-spacing:0.3px;">Rate</div>
<div class="t" style="left:203.50px;width:300px;text-align:center;top:796.00px;font-size:13.5px;color:#ffaa0e;font-weight:400;letter-spacing:0.6px;">0.40 Hz</div>
<svg class="a" style="left:313px;top:813px" width="81" height="81" viewBox="0 0 81 81"><g transform="translate(0.20 0.40)"><defs><linearGradient id="kg7" x1="0" y1="0" x2="0" y2="1"><stop offset="0" stop-color="#90726f"/><stop offset="1" stop-color="#74524f"/></linearGradient><radialGradient id="ks7" cx="0.5" cy="0.5" r="0.5"><stop offset="0.75" stop-color="#3a0d0c" stop-opacity="0.55"/><stop offset="1" stop-color="#3a0d0c" stop-opacity="0"/></radialGradient><linearGradient id="kh7" x1="0" y1="0" x2="0" y2="1"><stop offset="0" stop-color="#fff" stop-opacity="0.28"/><stop offset="0.45" stop-color="#fff" stop-opacity="0"/></linearGradient></defs><path d="M22.22 65.39 A31.0 31.0 0 1 1 57.78 65.39" fill="none" stroke="#5a201e" stroke-width="4.4" stroke-linecap="round"/><circle cx="22.36" cy="65.19" r="1.65" fill="#ffaa0e"/><path d="M22.36 65.19 A30.75 30.75 0 0 1 11.49 51.52" fill="none" stroke="#ffaa0e" stroke-width="3.3" stroke-linecap="butt"/><ellipse cx="40.0" cy="43.5" rx="27.8" ry="27.8" fill="url(#ks7)"/><circle cx="40.0" cy="40.0" r="24.3" fill="url(#kg7)"/><circle cx="40.0" cy="40.0" r="23.85" fill="none" stroke="url(#kh7)" stroke-width="0.9"/><path d="M18.12 48.84 L28.50 44.65" stroke="#ffaa0e" stroke-width="1.6" stroke-linecap="round"/></g></svg>
<div class="t" style="left:319.77px;width:300px;text-align:center;top:778.00px;font-size:11px;color:#d3b9b6;font-weight:400;letter-spacing:0.75px;">Depth</div>
<div class="t" style="left:319.70px;width:300px;text-align:center;top:796.00px;font-size:13.5px;color:#ffaa0e;font-weight:400;letter-spacing:0.6px;">50.0 %</div>
<svg class="a" style="left:429px;top:813px" width="81" height="81" viewBox="0 0 81 81"><g transform="translate(0.40 0.40)"><defs><linearGradient id="kg8" x1="0" y1="0" x2="0" y2="1"><stop offset="0" stop-color="#90726f"/><stop offset="1" stop-color="#74524f"/></linearGradient><radialGradient id="ks8" cx="0.5" cy="0.5" r="0.5"><stop offset="0.75" stop-color="#3a0d0c" stop-opacity="0.55"/><stop offset="1" stop-color="#3a0d0c" stop-opacity="0"/></radialGradient><linearGradient id="kh8" x1="0" y1="0" x2="0" y2="1"><stop offset="0" stop-color="#fff" stop-opacity="0.28"/><stop offset="0.45" stop-color="#fff" stop-opacity="0"/></linearGradient></defs><path d="M22.22 65.39 A31.0 31.0 0 1 1 57.78 65.39" fill="none" stroke="#5a201e" stroke-width="4.4" stroke-linecap="round"/><circle cx="22.36" cy="65.19" r="1.65" fill="#ffaa0e"/><path d="M22.36 65.19 A30.75 30.75 0 0 1 40.00 9.25" fill="none" stroke="#ffaa0e" stroke-width="3.3" stroke-linecap="butt"/><ellipse cx="40.0" cy="43.5" rx="27.8" ry="27.8" fill="url(#ks8)"/><circle cx="40.0" cy="40.0" r="24.3" fill="url(#kg8)"/><circle cx="40.0" cy="40.0" r="23.85" fill="none" stroke="url(#kh8)" stroke-width="0.9"/><path d="M40.00 16.40 L40.00 27.60" stroke="#ffaa0e" stroke-width="1.6" stroke-linecap="round"/></g></svg>
<div class="t" style="left:479.41px;width:300px;text-align:center;top:778.00px;font-size:11px;color:#d3b9b6;font-weight:400;letter-spacing:0.62px;">Feedback</div>
<div class="t" style="left:479.40px;width:300px;text-align:center;top:796.00px;font-size:13.5px;color:#ffaa0e;font-weight:400;letter-spacing:0.6px;">0.0 %</div>
<svg class="a" style="left:589px;top:813px" width="81" height="81" viewBox="0 0 81 81"><g transform="translate(0.10 0.40)"><defs><linearGradient id="kg9" x1="0" y1="0" x2="0" y2="1"><stop offset="0" stop-color="#90726f"/><stop offset="1" stop-color="#74524f"/></linearGradient><radialGradient id="ks9" cx="0.5" cy="0.5" r="0.5"><stop offset="0.75" stop-color="#3a0d0c" stop-opacity="0.55"/><stop offset="1" stop-color="#3a0d0c" stop-opacity="0"/></radialGradient><linearGradient id="kh9" x1="0" y1="0" x2="0" y2="1"><stop offset="0" stop-color="#fff" stop-opacity="0.28"/><stop offset="0.45" stop-color="#fff" stop-opacity="0"/></linearGradient></defs><path d="M22.22 65.39 A31.0 31.0 0 1 1 57.78 65.39" fill="none" stroke="#5a201e" stroke-width="4.4" stroke-linecap="round"/><ellipse cx="40.0" cy="43.5" rx="27.8" ry="27.8" fill="url(#ks9)"/><circle cx="40.0" cy="40.0" r="24.3" fill="url(#kg9)"/><circle cx="40.0" cy="40.0" r="23.85" fill="none" stroke="url(#kh9)" stroke-width="0.9"/><path d="M26.46 59.33 L32.89 50.16" stroke="#ffaa0e" stroke-width="1.6" stroke-linecap="round"/></g></svg>
<div class="t" style="left:595.75px;width:300px;text-align:center;top:778.00px;font-size:11px;color:#d3b9b6;font-weight:400;letter-spacing:0.3px;">Mix</div>
<div class="t" style="left:595.90px;width:300px;text-align:center;top:796.00px;font-size:13.5px;color:#ffaa0e;font-weight:400;letter-spacing:0.6px;">50.0 %</div>
<svg class="a" style="left:705px;top:813px" width="81" height="81" viewBox="0 0 81 81"><g transform="translate(0.60 0.40)"><defs><linearGradient id="kg10" x1="0" y1="0" x2="0" y2="1"><stop offset="0" stop-color="#90726f"/><stop offset="1" stop-color="#74524f"/></linearGradient><radialGradient id="ks10" cx="0.5" cy="0.5" r="0.5"><stop offset="0.75" stop-color="#3a0d0c" stop-opacity="0.55"/><stop offset="1" stop-color="#3a0d0c" stop-opacity="0"/></radialGradient><linearGradient id="kh10" x1="0" y1="0" x2="0" y2="1"><stop offset="0" stop-color="#fff" stop-opacity="0.28"/><stop offset="0.45" stop-color="#fff" stop-opacity="0"/></linearGradient></defs><path d="M22.22 65.39 A31.0 31.0 0 1 1 57.78 65.39" fill="none" stroke="#5a201e" stroke-width="4.4" stroke-linecap="round"/><circle cx="22.36" cy="65.19" r="1.65" fill="#ffaa0e"/><path d="M22.36 65.19 A30.75 30.75 0 0 1 40.00 9.25" fill="none" stroke="#ffaa0e" stroke-width="3.3" stroke-linecap="butt"/><ellipse cx="40.0" cy="43.5" rx="27.8" ry="27.8" fill="url(#ks10)"/><circle cx="40.0" cy="40.0" r="24.3" fill="url(#kg10)"/><circle cx="40.0" cy="40.0" r="23.85" fill="none" stroke="url(#kh10)" stroke-width="0.9"/><path d="M40.00 16.40 L40.00 27.60" stroke="#ffaa0e" stroke-width="1.6" stroke-linecap="round"/></g></svg>
<svg class="a" style="left:854px;top:734px" width="22" height="22" viewBox="0 0 22 22"><g transform="translate(0.50 0.00)"><circle cx="10.5" cy="10.5" r="10.5" fill="#ffaa0e"/><path d="M13.76 7.42 A4.7 4.7 0 1 1 7.24 7.42" fill="none" stroke="#2b1d0a" stroke-width="1.5" stroke-linecap="round"/><path d="M10.5 6.00 L10.5 10.20" stroke="#2b1d0a" stroke-width="1.5" stroke-linecap="round"/></g></svg>
<div class="t" style="left:888.40px;text-align:left;top:737.00px;font-size:15.5px;color:#f1e6e4;font-weight:400;letter-spacing:0.4px;-webkit-text-stroke:0.45px #f1e6e4;">Delay</div>
<div class="t" style="left:757.55px;width:300px;text-align:center;top:778.00px;font-size:11px;color:#d3b9b6;font-weight:400;letter-spacing:0.3px;">L Rate</div>
<div class="t" style="left:755.90px;width:300px;text-align:center;top:796.00px;font-size:13.5px;color:#ffaa0e;font-weight:400;letter-spacing:0.6px;">1/4</div>
<svg class="a" style="left:867px;top:813px" width="81" height="81" viewBox="0 0 81 81"><g transform="translate(0.40 0.40)"><defs><linearGradient id="kg11" x1="0" y1="0" x2="0" y2="1"><stop offset="0" stop-color="#90726f"/><stop offset="1" stop-color="#74524f"/></linearGradient><radialGradient id="ks11" cx="0.5" cy="0.5" r="0.5"><stop offset="0.75" stop-color="#3a0d0c" stop-opacity="0.55"/><stop offset="1" stop-color="#3a0d0c" stop-opacity="0"/></radialGradient><linearGradient id="kh11" x1="0" y1="0" x2="0" y2="1"><stop offset="0" stop-color="#fff" stop-opacity="0.28"/><stop offset="0.45" stop-color="#fff" stop-opacity="0"/></linearGradient></defs><path d="M22.22 65.39 A31.0 31.0 0 1 1 57.78 65.39" fill="none" stroke="#5a201e" stroke-width="4.4" stroke-linecap="round"/><circle cx="22.36" cy="65.19" r="1.65" fill="#ffaa0e"/><path d="M22.36 65.19 A30.75 30.75 0 0 1 27.00 12.13" fill="none" stroke="#ffaa0e" stroke-width="3.3" stroke-linecap="butt"/><ellipse cx="40.0" cy="43.5" rx="27.8" ry="27.8" fill="url(#ks11)"/><circle cx="40.0" cy="40.0" r="24.3" fill="url(#kg11)"/><circle cx="40.0" cy="40.0" r="23.85" fill="none" stroke="url(#kh11)" stroke-width="0.9"/><path d="M30.03 18.61 L34.76 28.76" stroke="#ffaa0e" stroke-width="1.6" stroke-linecap="round"/></g></svg>
<div class="t" style="left:874.28px;width:300px;text-align:center;top:778.00px;font-size:11px;color:#d3b9b6;font-weight:400;letter-spacing:0.15px;">R Rate</div>
<div class="t" style="left:872.70px;width:300px;text-align:center;top:796.00px;font-size:13.5px;color:#ffaa0e;font-weight:400;letter-spacing:0.6px;">1/8d</div>
<svg class="a" style="left:984px;top:813px" width="81" height="81" viewBox="0 0 81 81"><g transform="translate(0.20 0.40)"><defs><linearGradient id="kg12" x1="0" y1="0" x2="0" y2="1"><stop offset="0" stop-color="#90726f"/><stop offset="1" stop-color="#74524f"/></linearGradient><radialGradient id="ks12" cx="0.5" cy="0.5" r="0.5"><stop offset="0.75" stop-color="#3a0d0c" stop-opacity="0.55"/><stop offset="1" stop-color="#3a0d0c" stop-opacity="0"/></radialGradient><linearGradient id="kh12" x1="0" y1="0" x2="0" y2="1"><stop offset="0" stop-color="#fff" stop-opacity="0.28"/><stop offset="0.45" stop-color="#fff" stop-opacity="0"/></linearGradient></defs><path d="M22.22 65.39 A31.0 31.0 0 1 1 57.78 65.39" fill="none" stroke="#5a201e" stroke-width="4.4" stroke-linecap="round"/><circle cx="22.36" cy="65.19" r="1.65" fill="#ffaa0e"/><path d="M22.36 65.19 A30.75 30.75 0 0 1 22.80 14.51" fill="none" stroke="#ffaa0e" stroke-width="3.3" stroke-linecap="butt"/><ellipse cx="40.0" cy="43.5" rx="27.8" ry="27.8" fill="url(#ks12)"/><circle cx="40.0" cy="40.0" r="24.3" fill="url(#kg12)"/><circle cx="40.0" cy="40.0" r="23.85" fill="none" stroke="url(#kh12)" stroke-width="0.9"/><path d="M26.80 20.43 L33.07 29.72" stroke="#ffaa0e" stroke-width="1.6" stroke-linecap="round"/></g></svg>
<div class="t" style="left:1032.90px;width:300px;text-align:center;top:778.00px;font-size:11px;color:#d3b9b6;font-weight:400;letter-spacing:0.8px;">Cutoff</div>
<div class="t" style="left:1032.80px;width:300px;text-align:center;top:796.00px;font-size:13.5px;color:#ffaa0e;font-weight:400;letter-spacing:0.6px;">6223 Hz</div>
<svg class="a" style="left:1142px;top:813px" width="81" height="81" viewBox="0 0 81 81"><g transform="translate(0.50 0.40)"><defs><linearGradient id="kg13" x1="0" y1="0" x2="0" y2="1"><stop offset="0" stop-color="#90726f"/><stop offset="1" stop-color="#74524f"/></linearGradient><radialGradient id="ks13" cx="0.5" cy="0.5" r="0.5"><stop offset="0.75" stop-color="#3a0d0c" stop-opacity="0.55"/><stop offset="1" stop-color="#3a0d0c" stop-opacity="0"/></radialGradient><linearGradient id="kh13" x1="0" y1="0" x2="0" y2="1"><stop offset="0" stop-color="#fff" stop-opacity="0.28"/><stop offset="0.45" stop-color="#fff" stop-opacity="0"/></linearGradient></defs><path d="M22.22 65.39 A31.0 31.0 0 1 1 57.78 65.39" fill="none" stroke="#5a201e" stroke-width="4.4" stroke-linecap="round"/><circle cx="22.36" cy="65.19" r="1.65" fill="#ffaa0e"/><path d="M22.36 65.19 A30.75 30.75 0 1 1 70.28 45.34" fill="none" stroke="#ffaa0e" stroke-width="3.3" stroke-linecap="butt"/><ellipse cx="40.0" cy="43.5" rx="27.8" ry="27.8" fill="url(#ks13)"/><circle cx="40.0" cy="40.0" r="24.3" fill="url(#kg13)"/><circle cx="40.0" cy="40.0" r="23.85" fill="none" stroke="url(#kh13)" stroke-width="0.9"/><path d="M63.24 44.10 L52.21 42.15" stroke="#ffaa0e" stroke-width="1.6" stroke-linecap="round"/></g></svg>
<div class="t" style="left:1148.81px;width:300px;text-align:center;top:778.00px;font-size:11px;color:#d3b9b6;font-weight:400;letter-spacing:0.62px;">Feedback</div>
<div class="t" style="left:1148.80px;width:300px;text-align:center;top:796.00px;font-size:13.5px;color:#ffaa0e;font-weight:400;letter-spacing:0.6px;">33.9 %</div>
<svg class="a" style="left:1258px;top:813px" width="81" height="81" viewBox="0 0 81 81"><g transform="translate(0.50 0.40)"><defs><linearGradient id="kg14" x1="0" y1="0" x2="0" y2="1"><stop offset="0" stop-color="#90726f"/><stop offset="1" stop-color="#74524f"/></linearGradient><radialGradient id="ks14" cx="0.5" cy="0.5" r="0.5"><stop offset="0.75" stop-color="#3a0d0c" stop-opacity="0.55"/><stop offset="1" stop-color="#3a0d0c" stop-opacity="0"/></radialGradient><linearGradient id="kh14" x1="0" y1="0" x2="0" y2="1"><stop offset="0" stop-color="#fff" stop-opacity="0.28"/><stop offset="0.45" stop-color="#fff" stop-opacity="0"/></linearGradient></defs><path d="M22.22 65.39 A31.0 31.0 0 1 1 57.78 65.39" fill="none" stroke="#5a201e" stroke-width="4.4" stroke-linecap="round"/><circle cx="22.36" cy="65.19" r="1.65" fill="#ffaa0e"/><path d="M22.36 65.19 A30.75 30.75 0 0 1 17.62 18.91" fill="none" stroke="#ffaa0e" stroke-width="3.3" stroke-linecap="butt"/><ellipse cx="40.0" cy="43.5" rx="27.8" ry="27.8" fill="url(#ks14)"/><circle cx="40.0" cy="40.0" r="24.3" fill="url(#kg14)"/><circle cx="40.0" cy="40.0" r="23.85" fill="none" stroke="url(#kh14)" stroke-width="0.9"/><path d="M22.82 23.81 L30.98 31.50" stroke="#ffaa0e" stroke-width="1.6" stroke-linecap="round"/></g></svg>
<svg class="a" style="left:-1px;top:850px" width="1412" height="5" viewBox="0 0 1412 5"><rect x="1.00" y="1.60" width="1410.00" height="2.00" fill="rgba(185,205,230,0.31)"/></svg>
<svg class="a" style="left:-1px;top:852px" width="1412" height="7" viewBox="0 0 1412 7"><rect x="1.00" y="1.60" width="1410.00" height="4.40" fill="#000"/></svg>
<svg class="a" style="left:-1px;top:857px" width="1412" height="4" viewBox="0 0 1412 4"><rect x="1.00" y="1.00" width="1410.00" height="2.00" fill="#fff"/></svg>
</div></body></html>
